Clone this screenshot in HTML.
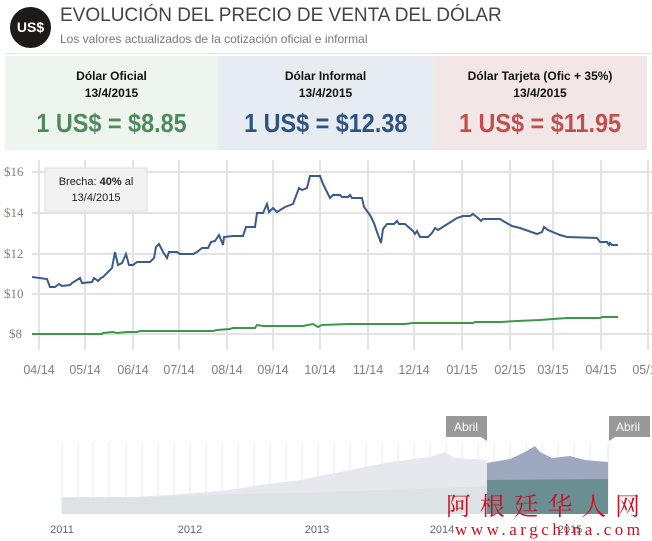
<!DOCTYPE html>
<html><head><meta charset="utf-8"><style>
body{margin:0;width:652px;height:541px;background:#fff;font-family:"Liberation Sans",sans-serif;overflow:hidden;position:relative}
.t{position:absolute;white-space:nowrap}
.p{position:absolute;top:56px;height:94px;text-align:center}
.p .a{font-weight:bold;font-size:12px;color:#111;margin-top:12px;line-height:17px}
.p .v{font-weight:bold;font-size:26px;margin-top:6px;display:inline-block;transform:scaleX(0.9)}
</style></head><body>
<div class="t" style="left:10px;top:7px;width:41px;height:41px;border-radius:50%;background:#1e1a1a;color:#fff;font-weight:bold;font-size:14px;line-height:41px;text-align:center">US$</div>
<div class="t" style="left:60px;top:5px;font-size:19px;color:#444">EVOLUCIÓN DEL PRECIO DE VENTA DEL DÓLAR</div>
<div class="t" style="left:60px;top:32px;font-size:12px;color:#777">Los valores actualizados de la cotización oficial e informal</div>
<div class="t" style="left:5px;top:53px;width:647px;height:1px;background:#e6e6e6"></div>
<div class="p" style="left:5px;width:213px;background:#edf5ee"><div class="a">Dólar Oficial<br>13/4/2015</div><div class="v" style="color:#4f8a5e">1 US$ = $8.85</div></div>
<div class="p" style="left:218px;width:215px;background:#e7ebf2"><div class="a">Dólar Informal<br>13/4/2015</div><div class="v" style="color:#2f5380">1 US$ = $12.38</div></div>
<div class="p" style="left:433px;width:214px;background:#f2e6e6"><div class="a">Dólar Tarjeta (Ofic + 35%)<br>13/4/2015</div><div class="v" style="color:#c0504d">1 US$ = $11.95</div></div>

<svg class="t" style="left:0;top:0" width="652" height="541">
<g stroke="#e3e3e3" stroke-width="2">
<line x1="32" x2="652" y1="172" y2="172"/><line x1="32" x2="652" y1="213" y2="213"/><line x1="32" x2="652" y1="254" y2="254"/><line x1="32" x2="652" y1="294" y2="294"/><line x1="32" x2="652" y1="334" y2="334"/>
<line x1="39" x2="39" y1="160" y2="350"/><line x1="85" x2="85" y1="160" y2="350"/><line x1="133" x2="133" y1="160" y2="350"/><line x1="179" x2="179" y1="160" y2="350"/><line x1="227" x2="227" y1="160" y2="350"/><line x1="273" x2="273" y1="160" y2="350"/><line x1="320" x2="320" y1="160" y2="350"/><line x1="368" x2="368" y1="160" y2="350"/><line x1="414" x2="414" y1="160" y2="350"/><line x1="462" x2="462" y1="160" y2="350"/><line x1="510" x2="510" y1="160" y2="350"/><line x1="553" x2="553" y1="160" y2="350"/><line x1="601" x2="601" y1="160" y2="350"/><line x1="648" x2="648" y1="160" y2="350"/>
</g>
<g font-size="13" fill="#8a7a7a" font-family="Liberation Serif,serif"><text x="4" y="176">$16</text><text x="4" y="217">$14</text><text x="4" y="258">$12</text><text x="4" y="298">$10</text><text x="9" y="338">$8</text></g>
<g font-size="12.5" fill="#8a7a7a" text-anchor="middle"><text x="39" y="374">04/14</text><text x="85" y="374">05/14</text><text x="133" y="374">06/14</text><text x="179" y="374">07/14</text><text x="227" y="374">08/14</text><text x="273" y="374">09/14</text><text x="320" y="374">10/14</text><text x="368" y="374">11/14</text><text x="414" y="374">12/14</text><text x="462" y="374">01/15</text><text x="510" y="374">02/15</text><text x="553" y="374">03/15</text><text x="601" y="374">04/15</text><text x="648" y="374">05/15</text></g>
<polyline fill="none" stroke="#3a9a4a" stroke-width="2" points="32,334 102,334 103,333 113,332 117,333 127,332 137,332 140,331 213,331 217,330 230,329 233,328 255,328 257,325 263,326 277,326 303,326 313,324 318,327 322,325 350,324 405,324 413,323 473,323 475,322 500,322 517,321 540,320 553,319 567,318 600,318 602,317 618,317"/>
<polyline fill="none" stroke="#3b5b8c" stroke-width="2" points="32,277 47,279 50,287 55,287 59,284 62,286 70,285 72,283 80,278 82,283 92,282 94,278 98,281 101,278 103,277 112,268 115,252 118,265 122,263 126,254 129,265 133,265 137,262 150,262 154,258 156,247 159,244 163,252 167,258 169,252 177,252 180,254 193,254 197,252 202,248 208,248 211,242 215,241 219,235 223,245 224,237 233,236 243,236 246,227 255,227 257,213 263,213 267,204 269,212 273,208 277,212 285,207 293,204 299,188 302,190 307,188 310,176 320,176 323,184 330,198 333,195 340,195 342,197 348,197 350,195 352,198 362,198 364,207 370,215 374,223 377,232 381,243 383,229 387,224 394,224 397,221 399,224 405,224 413,231 415,234 417,231 420,237 428,237 432,233 435,228 438,230 457,218 463,216 470,216 473,214 478,218 481,221 483,219 500,219 503,221 512,226 520,228 537,234 542,232 544,227 548,230 560,235 567,237 597,238 600,242 607,242 609,245 610,243 612,245 618,245"/>
<rect x="45" y="168" width="102" height="43" fill="#f2f2f2" stroke="#ddd"/>
<text x="96" y="185" font-size="11" text-anchor="middle" fill="#222">Brecha: <tspan font-weight="bold">40%</tspan> al</text>
<text x="96" y="201" font-size="11" text-anchor="middle" fill="#222">13/4/2015</text>

<g stroke="#f0f0f0" stroke-width="1.5">
<line x1="62" x2="62" y1="443" y2="514"/><line x1="78" x2="78" y1="443" y2="514"/><line x1="93" x2="93" y1="443" y2="514"/><line x1="109" x2="109" y1="443" y2="514"/><line x1="126" x2="126" y1="443" y2="514"/><line x1="142" x2="142" y1="443" y2="514"/><line x1="158" x2="158" y1="443" y2="514"/><line x1="174" x2="174" y1="443" y2="514"/><line x1="190" x2="190" y1="443" y2="514"/><line x1="206" x2="206" y1="443" y2="514"/><line x1="222" x2="222" y1="443" y2="514"/><line x1="238" x2="238" y1="443" y2="514"/><line x1="254" x2="254" y1="443" y2="514"/><line x1="270" x2="270" y1="443" y2="514"/><line x1="286" x2="286" y1="443" y2="514"/><line x1="302" x2="302" y1="443" y2="514"/><line x1="318" x2="318" y1="443" y2="514"/><line x1="334" x2="334" y1="443" y2="514"/><line x1="350" x2="350" y1="443" y2="514"/><line x1="366" x2="366" y1="443" y2="514"/><line x1="382" x2="382" y1="443" y2="514"/><line x1="398" x2="398" y1="443" y2="514"/><line x1="414" x2="414" y1="443" y2="514"/><line x1="430" x2="430" y1="443" y2="514"/><line x1="446" x2="446" y1="443" y2="514"/><line x1="462" x2="462" y1="443" y2="514"/><line x1="478" x2="478" y1="443" y2="514"/><line x1="494" x2="494" y1="443" y2="514"/><line x1="510" x2="510" y1="443" y2="514"/><line x1="526" x2="526" y1="443" y2="514"/><line x1="542" x2="542" y1="443" y2="514"/><line x1="558" x2="558" y1="443" y2="514"/><line x1="574" x2="574" y1="443" y2="514"/><line x1="590" x2="590" y1="443" y2="514"/><line x1="608" x2="608" y1="443" y2="514"/>
</g>
<path d="M62,514 L62,497 L130,497 L170,495 L230,490 L260,485 L300,480 L330,474 L360,468 L390,462 L430,457 L445,452 L455,458 L487,460 L487,514Z" fill="#e6e8ee"/>
<path d="M62,514 L62,498 L160,497 L230,494 L300,493 L380,490 L440,488 L487,486 L487,514Z" fill="#dde3e5"/>
<path d="M487,514 L487,463 L510,459 L525,452 L535,446 L540,452 L552,458 L570,456 L585,460 L608,462 L608,514Z" fill="#9ea9c0"/>
<path d="M487,514 L487,480 L608,479 L608,514Z" fill="#6a8e92"/>
<path d="M446,416 H487 V441 L481,437 H446Z" fill="#999"/>
<text x="466" y="431" font-size="12" fill="#fff" text-anchor="middle">Abril</text>
<path d="M609,416 H650 V437 H615 L609,441Z" fill="#999"/>
<text x="628" y="431" font-size="12" fill="#fff" text-anchor="middle">Abril</text>
<g font-size="11" fill="#666" text-anchor="middle"><text x="62" y="533">2011</text><text x="190" y="533">2012</text><text x="317" y="533">2013</text><text x="442" y="533">2014</text><text x="570" y="533">2015</text></g>
<text x="446" y="515" font-size="25" fill="#cc1122" font-family="Noto Serif CJK SC,serif" textLength="194">阿根廷华人网</text>
<text x="455" y="535" font-size="17" fill="#cc1122" font-family="Liberation Serif,serif" textLength="185">www.argchina.com</text>
</svg>
</body></html>
